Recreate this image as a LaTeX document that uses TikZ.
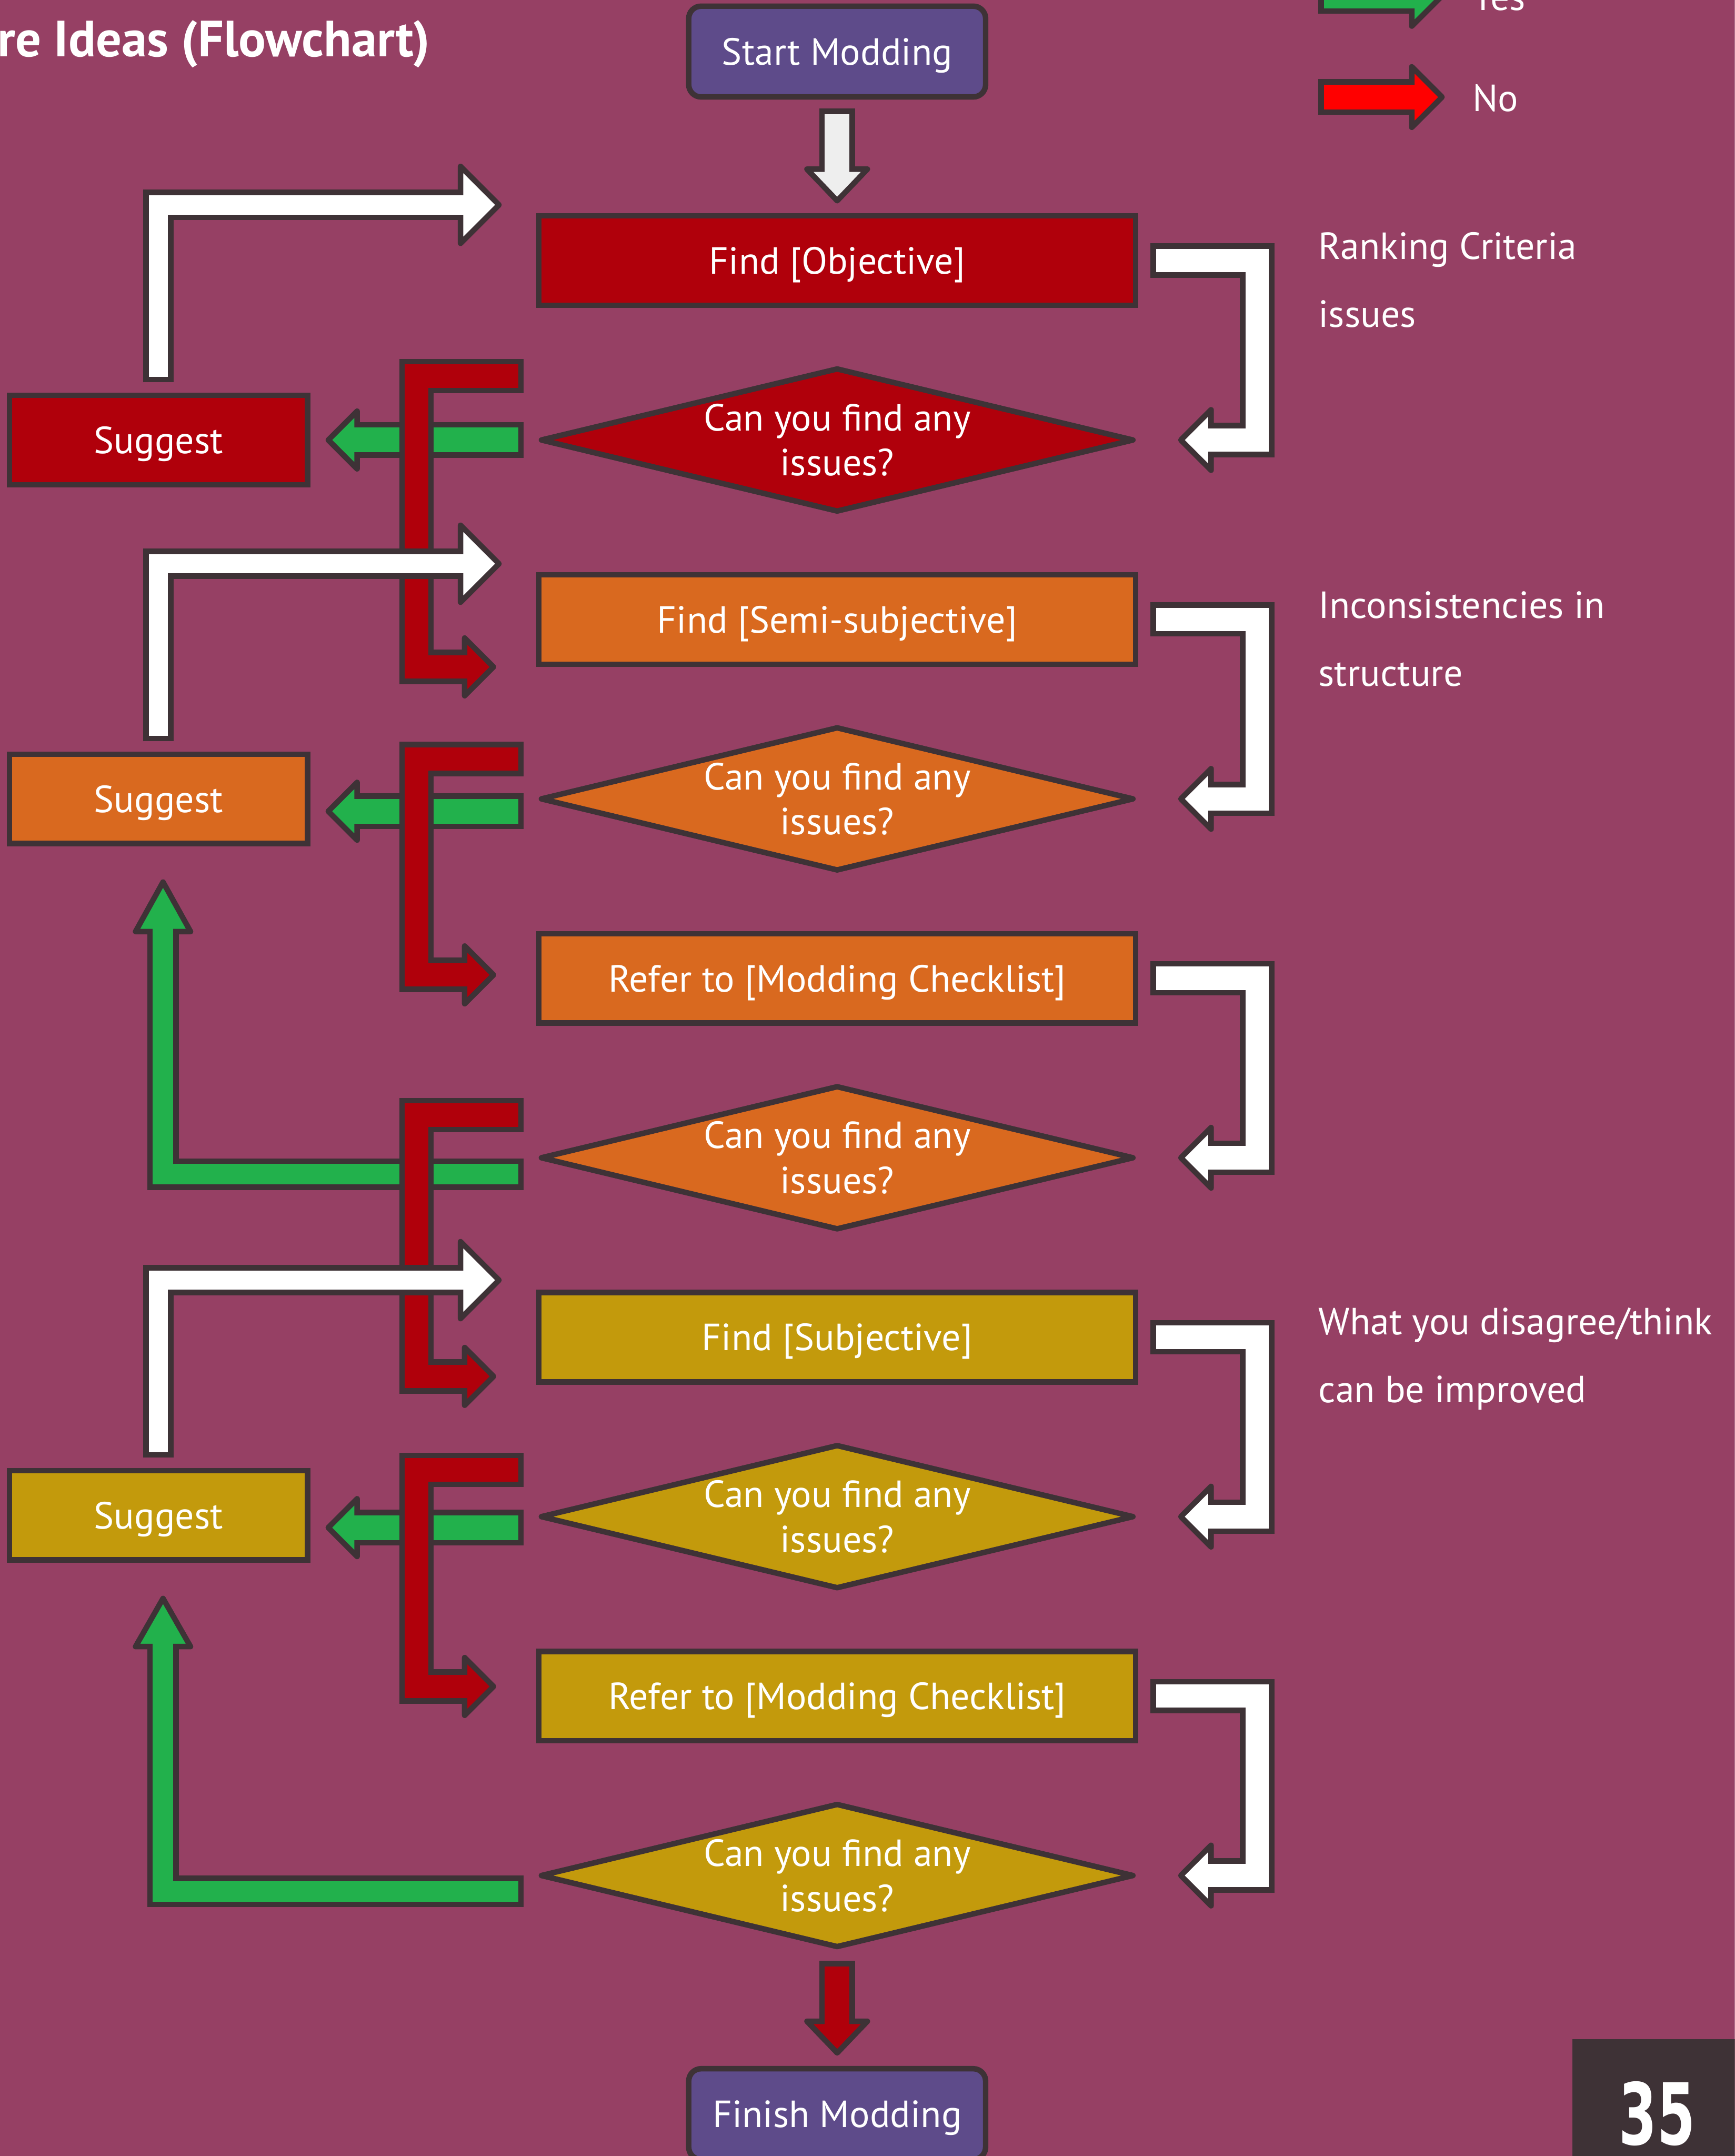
\documentclass[tikz,border=0pt]{standalone}
\usepackage{fontspec}
\setmainfont{PT Sans}
\newfontfamily\pagefont{DejaVu Sans}
\usetikzlibrary{shapes.geometric}

\definecolor{page}{RGB}{150,64,100}
\definecolor{edge}{RGB}{62,50,54}
\definecolor{lvlred}{RGB}{176,0,11}
\definecolor{lvlorange}{RGB}{217,105,31}
\definecolor{lvlyellow}{RGB}{195,154,12}
\definecolor{endpurple}{RGB}{94,75,138}
\definecolor{yesgreen}{RGB}{34,177,76}
\definecolor{keyred}{RGB}{255,0,0}
\definecolor{startgrey}{RGB}{238,238,238}

% arrow head of a block arrow: fill colour, half width, length
\tikzset{
  pics/head/.style n args={3}{code={
    \path[draw=edge, line width=4pt, line join=round, fill=#1]
      (0pt,-#2) -- (#3,0pt) -- (0pt,#2) -- cycle;}}
}

% block arrow: colour, shaft width, head half width, head length, angle, path (ends at head base)
\newcommand{\fatarrow}[6]{%
  \draw[draw=edge, line width=#2pt+8pt] #6;
  \pic[rotate=#5] at (hb) {head={#1}{#3pt}{#4pt}};
  \draw[draw=#1, line width=#2pt, shorten <=4pt, shorten >=-5pt] #6;}

\begin{document}
\begin{tikzpicture}[x=1pt, y=-1pt]
    \tikzstyle{stepbox}=[rectangle, draw=edge, line width=4pt, text=white, inner sep=0pt,
      minimum width=434pt, minimum height=65pt, text height=19.5pt, text depth=0pt,
      font=\fontsize{27.5}{33}\selectfont]
    \tikzstyle{suggestbox}=[stepbox, minimum width=217pt]
    \tikzstyle{terminal}=[stepbox, fill=endpurple, rounded corners=9pt, minimum width=216pt, minimum height=66pt]
    \tikzstyle{ask}=[diamond, aspect=4, draw=edge, line width=4pt, line join=round, text=white,
      inner sep=0pt, minimum width=432pt, minimum height=105pt, align=center,
      font=\fontsize{27.5}{32.7}\selectfont]
    \tikzstyle{note}=[anchor=base west, text=white, inner sep=0pt, font=\fontsize{27.5}{33}\selectfont]

    \useasboundingbox (0,0) rectangle (1262,1568);
    \clip (0,0) rectangle (1262,1568);
    \fill[page] (0,0) rectangle (1262,1568);

    \node[anchor=base east, text=white, inner sep=0pt, font=\bfseries\fontsize{37}{37}\selectfont]
      (title) at (313,41) {re Ideas (Flowchart)};

    % main column
    \node[terminal] (start) at (609,37.5) {Start Modding};
    \node[stepbox, fill=lvlred] (find1) at (609,189.5) {Find [Objective]};
    \node[ask, fill=lvlred] (ask1) at (609,320) {Can you find any\\issues?};
    \node[stepbox, fill=lvlorange] (find2) at (609,450.5) {Find [Semi-subjective]};
    \node[ask, fill=lvlorange] (ask2) at (609,581) {Can you find any\\issues?};
    \node[stepbox, fill=lvlorange] (check1) at (609,711.5) {Refer to [Modding Checklist]};
    \node[ask, fill=lvlorange] (ask3) at (609,842) {Can you find any\\issues?};
    \node[stepbox, fill=lvlyellow] (find3) at (609,972.5) {Find [Subjective]};
    \node[ask, fill=lvlyellow] (ask4) at (609,1103) {Can you find any\\issues?};
    \node[stepbox, fill=lvlyellow] (check2) at (609,1233.5) {Refer to [Modding Checklist]};
    \node[ask, fill=lvlyellow] (ask5) at (609,1364) {Can you find any\\issues?};
    \node[terminal] (finish) at (609,1537.5) {Finish Modding};

    % suggestions
    \node[suggestbox, fill=lvlred] (sug1) at (115.3,320) {Suggest};
    \node[suggestbox, fill=lvlorange] (sug2) at (115.3,581) {Suggest};
    \node[suggestbox, fill=lvlyellow] (sug3) at (115.3,1102) {Suggest};

    % notes and key
    \node[note] (rank1) at (959,188.7) {Ranking Criteria};
    \node[note] (rank2) at (959,238) {issues};
    \node[note] (incon1) at (959,449.7) {Inconsistencies in};
    \node[note] (incon2) at (959,499) {structure};
    \node[note] (think1) at (959,970.7) {What you disagree/think};
    \node[note] (think2) at (959,1020) {can be improved};
    \node[note] (yes) at (1071,7.5) {Yes};
    \node[note] (no) at (1071,80.9) {No};
    \coordinate (yeskey) at (959,-3);
    \coordinate (nokey) at (959,70.6);

    % yes arrows
    \fatarrow{yesgreen}{18}{21}{21}{180}{([xshift=-10pt]ask1.west) -- ([xshift=34pt]sug1.east) coordinate (hb)}
    \fatarrow{yesgreen}{18}{21}{21}{180}{([xshift=-10pt,yshift=-9pt]ask2.west) -- ([xshift=34pt,yshift=-9pt]sug2.east) coordinate (hb)}
    \fatarrow{yesgreen}{15}{20}{36}{90}{([xshift=-10pt,yshift=-12pt]ask3.west) -| ([xshift=3.3pt,yshift=-62pt]sug2.south) coordinate (hb)}
    \fatarrow{yesgreen}{18}{21}{21}{180}{([xshift=-10pt,yshift=-8pt]ask4.west) -- ([xshift=34pt,yshift=-9pt]sug3.east) coordinate (hb)}
    \fatarrow{yesgreen}{15}{20}{35}{90}{([xshift=-10pt,yshift=-11.6pt]ask5.west) -| ([xshift=3.3pt,yshift=-61pt]sug3.south) coordinate (hb)}

    % no arrows
    \fatarrow{lvlred}{17}{21}{21}{0}{([xshift=-10pt,yshift=46.5pt]ask1.west) -- ++(-78,0) |- ([xshift=-52pt,yshift=-34.5pt]find2.west) coordinate (hb)}
    \fatarrow{lvlred}{17}{21}{21}{0}{([xshift=-10pt,yshift=29pt]ask2.west) -- ++(-78,0) |- ([xshift=-52pt,yshift=2.5pt]check1.west) coordinate (hb)}
    \fatarrow{lvlred}{17}{21}{21}{0}{([xshift=-10pt,yshift=31pt]ask3.west) -- ++(-78,0) |- ([xshift=-52pt,yshift=-28.5pt]find3.west) coordinate (hb)}
    \fatarrow{lvlred}{17}{21}{21}{0}{([xshift=-10pt,yshift=34pt]ask4.west) -- ++(-78,0) |- ([xshift=-52pt,yshift=7pt]check2.west) coordinate (hb)}

    % back from the suggestions
    \fatarrow{white}{14}{28}{28}{0}{([yshift=7.5pt]sug1.north) |- ([xshift=-55pt,yshift=40.5pt]find1.west) coordinate (hb)}
    \fatarrow{white}{14}{28}{28}{0}{([yshift=7.5pt]sug2.north) |- ([xshift=-55pt,yshift=40.5pt]find2.west) coordinate (hb)}
    \fatarrow{white}{14}{28}{28}{0}{([yshift=7.5pt]sug3.north) |- ([xshift=-55pt,yshift=41.5pt]find3.west) coordinate (hb)}

    % step -> question
    \foreach \b/\a in {find1/ask1, find2/ask2, check1/ask3, find3/ask4, check2/ask5}{
      \fatarrow{white}{17}{22}{22}{180}{([xshift=9pt]\b.east) -- ++(77.5,0) |- ([xshift=54pt]\a.east) coordinate (hb)}
    }

    \fatarrow{startgrey}{18}{22}{23}{-90}{([yshift=-6.5pt]start.south) -- ([yshift=32pt]find1.north) coordinate (hb)}
    \fatarrow{lvlred}{18}{22}{23}{-90}{([yshift=-7.5pt]ask5.south) -- ([yshift=32.5pt]finish.north) coordinate (hb)}

    % key
    \fatarrow{yesgreen}{18}{22}{22}{0}{(yeskey) -- ++(68,0) coordinate (hb)}
    \fatarrow{keyred}{18}{22}{22}{0}{(nokey) -- ++(68,0) coordinate (hb)}

    % page number
    \fill[edge] (1144,1483) rectangle (1262,1568);
    \node[text=white, inner sep=0pt, xscale=0.64, font=\pagefont\bfseries\fontsize{62}{62}\selectfont]
      (pagenum) at (1205.5,1537) {35};
\end{tikzpicture}
\end{document}
